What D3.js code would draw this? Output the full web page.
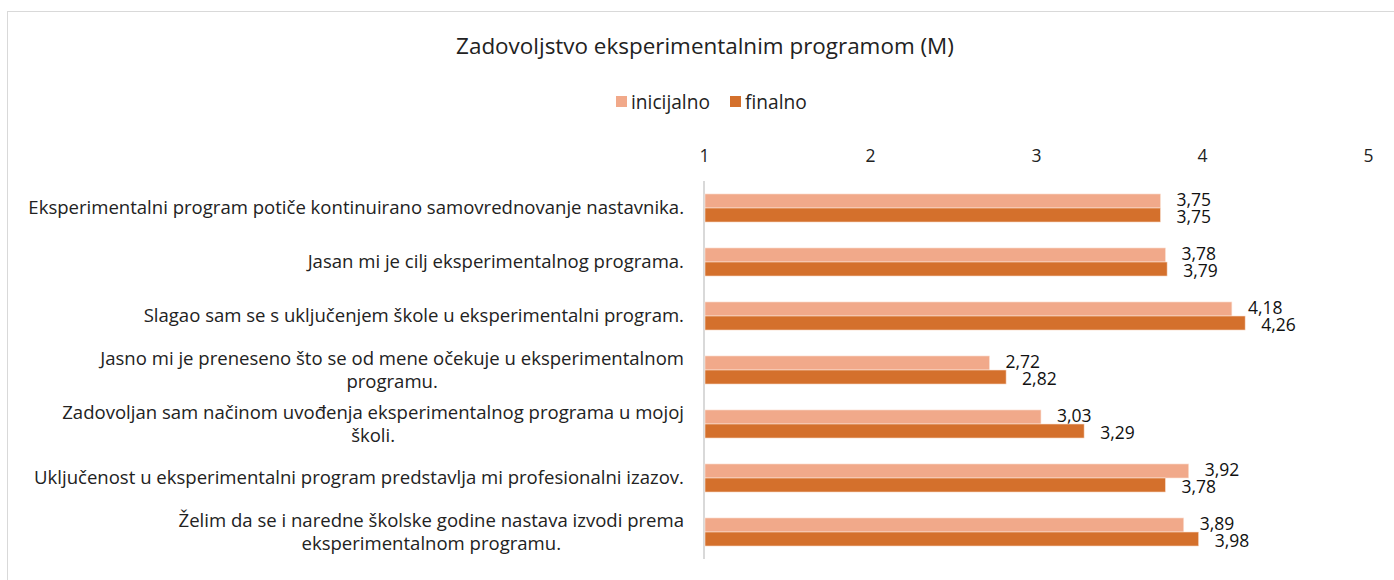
<!DOCTYPE html>
<html><head><meta charset="utf-8">
<script src="https://cdn.jsdelivr.net/npm/d3@7"></script>
<style>body{margin:0;background:#fff}svg{display:block;font-family:"Open Sans",Lato,sans-serif}</style>
</head><body><svg id="c" width="1394" height="580"></svg>
<script>
const categories = [
  ["Eksperimentalni program potiče kontinuirano samovrednovanje nastavnika."],
  ["Jasan mi je cilj eksperimentalnog programa."],
  ["Slagao sam se s uključenjem škole u eksperimentalni program."],
  ["Jasno mi je preneseno što se od mene očekuje u eksperimentalnom", "programu."],
  ["Zadovoljan sam načinom uvođenja eksperimentalnog programa u mojoj", "školi."],
  ["Uključenost u eksperimentalni program predstavlja mi profesionalni izazov."],
  ["Želim da se i naredne školske godine nastava izvodi prema", "eksperimentalnom programu."]
];
const seriesNames = ["inicijalno", "finalno"];
const inicijalno = [3.75, 3.78, 4.18, 2.72, 3.03, 3.92, 3.89];
const finalno = [3.75, 3.79, 4.26, 2.82, 3.29, 3.78, 3.98];
const tickValues = [1, 2, 3, 4, 5];
const title = "Zadovoljstvo eksperimentalnim programom (M)";
const colors = ["#F1A98A", "#D4702C"];

const svg = d3.select("#c");
svg.append("rect").attr("x", 7.5).attr("y", 11.5).attr("width", 1400).attr("height", 600)
  .attr("fill", "none").attr("stroke", "#d9d9d9");

function fit(sel, target, base) {
  const w = sel.node().getComputedTextLength();
  sel.attr("font-size", base * target / w);
}

const t = svg.append("text").attr("x", 705).attr("y", 54).attr("text-anchor", "middle")
  .attr("font-size", 20).attr("fill", "#222").text(title);
fit(t, 498, 20);

const legend = [{x: 616, name: seriesNames[0], c: colors[0]}, {x: 730, name: seriesNames[1], c: colors[1]}];
legend.forEach((l, k) => {
  svg.append("rect").attr("x", l.x).attr("y", 96).attr("width", 11).attr("height", 11).attr("fill", l.c);
  const lt = svg.append("text").attr("x", l.x + 15).attr("y", 108.5).attr("font-size", 17).attr("fill", "#222").text(l.name);
  if (k === 0) fit(lt, 79, 17);
  else lt.attr("font-size", svg.select("text:nth-of-type(2)").attr("font-size"));
});

const x = d3.scaleLinear().domain([1, 5]).range([704, 1368]);
const y = d3.scaleBand().domain(d3.range(categories.length)).range([181, 559]).paddingInner(0.48).paddingOuter(0.24);
const sub = d3.scaleBand().domain([0, 1]).range([0, y.bandwidth()]);

const ax = svg.append("g").attr("transform", "translate(0,162)")
  .call(d3.axisTop(x).tickValues(tickValues).tickFormat(d3.format("d")).tickSize(0).tickPadding(0));
ax.select(".domain").remove();
ax.selectAll("text").attr("font-size", 17.5).attr("fill", "#222").attr("font-family", "'Open Sans',Lato,sans-serif");

svg.append("line").attr("x1", 704).attr("x2", 704).attr("y1", 181).attr("y2", 559)
  .attr("stroke", "#d9d9d9").attr("stroke-width", 2);

const series = [inicijalno, finalno];
series.forEach((vals, si) => {
  svg.append("g").selectAll("rect").data(vals).join("rect")
    .attr("x", x(1) + 1).attr("y", (d, i) => y(i) + sub(si))
    .attr("width", d => x(d) - x(1) - 1).attr("height", sub.bandwidth())
    .attr("fill", colors[si]).attr("stroke", "#fbe3d6").attr("stroke-width", 0.6);
  svg.append("g").selectAll("text").data(vals).join("text")
    .attr("x", d => x(d) + 16).attr("y", (d, i) => y(i) + sub(si) + sub.bandwidth() / 2 + (si ? 1.5 : -1.5))
    .attr("dy", "0.35em").attr("font-size", 17.5).attr("fill", "#111")
    .text(d => d3.format(".2f")(d).replace(".", ","));
});

// category labels: size fitted so the longest line spans like the reference
const labelRight = 684;
const probe = svg.append("text").attr("font-size", 16).text(categories[0][0]);
const catSize = 16 * 656 / probe.node().getComputedTextLength();
probe.remove();
categories.forEach((lines, i) => {
  const cy = y(i) + y.bandwidth() / 2;
  const g = svg.append("g");
  const lh = 23.5;
  const ts = lines.map((ln, k) => g.append("text").attr("font-size", catSize).attr("fill", "#222")
    .attr("y", cy + (k - (lines.length - 1) / 2) * lh).attr("dy", "0.35em").attr("text-anchor", "middle").text(ln));
  const w = d3.max(ts, t => t.node().getComputedTextLength());
  ts.forEach(t => t.attr("x", labelRight - w / 2));
});
</script></body></html>
